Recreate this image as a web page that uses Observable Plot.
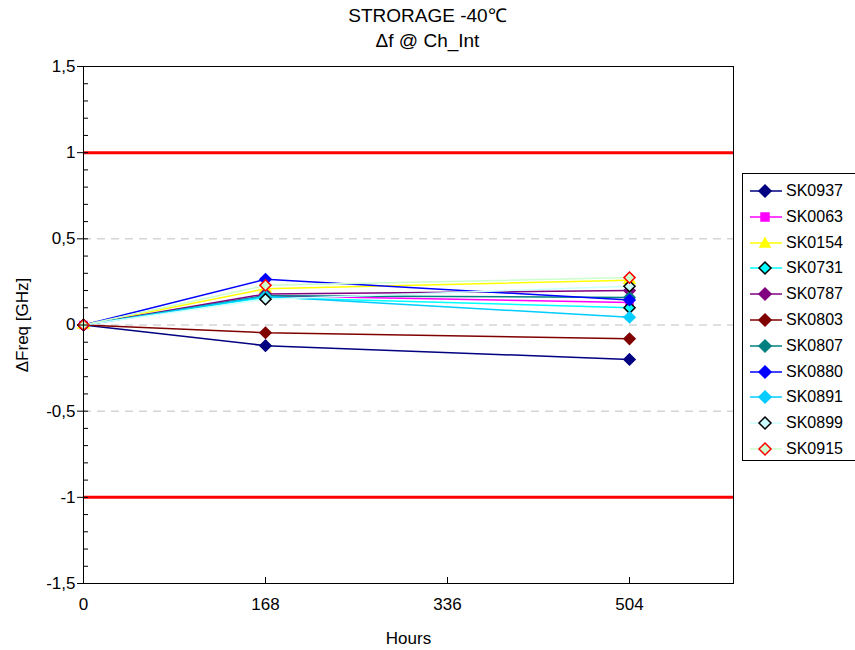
<!DOCTYPE html>
<html><head><meta charset="utf-8">
<script src="https://cdn.jsdelivr.net/npm/d3@7"></script>
<script src="https://cdn.jsdelivr.net/npm/@observablehq/plot@0.6"></script>
<style>
body{margin:0;background:#fff;font-family:"Liberation Sans",Arial,sans-serif;}
#wrap{position:relative;width:855px;height:650px;overflow:hidden;}
#title{position:absolute;left:0;width:855px;top:3px;text-align:center;font-size:19px;line-height:25px;color:#000;}
#legend{position:absolute;left:742px;top:173px;width:120px;height:288px;border:1px solid #000;box-sizing:border-box;background:#fff;}
.li{position:absolute;left:6px;height:20px;display:flex;align-items:center;font-size:16px;}
.li svg{margin-right:3px;}
</style></head>
<body><div id="wrap"><div id="title"><div>STRORAGE -40℃</div><div>Δf @ Ch_Int</div></div><div id="chart"></div><div id="legend"></div></div>
<script>
const hours = [0, 168, 504];
const xTicks = [0, 168, 336, 504];
const yTicks = [-1.5, -1, -0.5, 0, 0.5, 1, 1.5];
const limits = [-1, 1];
const gridLines = [-0.5, 0, 0.5];
const seriesNames = ["SK0937","SK0063","SK0154","SK0731","SK0787","SK0803","SK0807","SK0880","SK0891","SK0899","SK0915"];
const SK0937 = [0, -0.12, -0.20];
const SK0063 = [0, 0.17, 0.13];
const SK0154 = [0, 0.21, 0.26];
const SK0731 = [0, 0.16, 0.10];
const SK0787 = [0, 0.18, 0.20];
const SK0803 = [0, -0.045, -0.08];
const SK0807 = [0, 0.17, 0.16];
const SK0880 = [0, 0.265, 0.145];
const SK0891 = [0, 0.165, 0.045];
const SK0899 = [0, 0.15, 0.225];
const SK0915 = [0, 0.23, 0.275];
const seriesValues = [SK0937,SK0063,SK0154,SK0731,SK0787,SK0803,SK0807,SK0880,SK0891,SK0899,SK0915];
const lineColors = ["#000080","#FF00FF","#FFFF00","#00FFFF","#800080","#800000","#008080","#0000FF","#00CCFF","#CCFFFF","#CCFFCC"];
const markFill   = ["#000080","#FF00FF","#FFFF00","#00FFFF","#800080","#800000","#008080","#0000FF","#00CCFF","#CCFFFF","#CCFFCC"];
const markStroke = ["#000080","#FF00FF","#FFFF00","#000000","#800080","#800000","#008080","#0000FF","#00CCFF","#000000","#FF0000"];
const markSymbol = ["diamond2","square","triangle","diamond2","diamond2","diamond2","diamond2","diamond2","diamond2","diamond2","diamond2"];

const fmt = d => String(d).replace(".", ",");
const minorTicks = d3.range(-15, 16).map(i => i / 10);

const seriesMarks = [];
seriesNames.forEach((name, i) => {
  const data = hours.map((h, j) => ({h, v: seriesValues[i][j]}));
  seriesMarks.push(Plot.line(data, {x: "h", y: "v", stroke: lineColors[i], strokeWidth: 1.5}));
  seriesMarks.push(Plot.dot(data, {x: "h", y: "v", symbol: markSymbol[i], fill: markFill[i], stroke: markStroke[i], strokeWidth: 1.5, r: markSymbol[i]==="diamond2" ? 5 : 4}));
});

const chart = Plot.plot({
  width: 855, height: 650,
  marginTop: 66, marginBottom: 67, marginLeft: 83, marginRight: 122,
  style: {fontFamily: '"Liberation Sans", Arial, sans-serif', fontSize: "17px", color: "#000", background: "#fff"},
  x: {domain: [0, 600]},
  y: {domain: [-1.5, 1.5]},
  marks: [
    Plot.ruleY(gridLines, {stroke: "#c0c0c0", strokeWidth: 1, strokeDasharray: "8,6"}),
    Plot.ruleY(limits, {stroke: "#ff0000", strokeWidth: 3}),
    ...seriesMarks,
    Plot.frame({stroke: "#000", strokeWidth: 1}),
    Plot.axisY({ticks: minorTicks, tickSize: -5, text: null, label: null, stroke: "#000"}),
    Plot.axisY({ticks: yTicks, tickSize: 6, tickPadding: 2, tickFormat: fmt, label: "ΔFreq [GHz]", labelAnchor: "center", labelOffset: 68, labelArrow: "none", fill: "#000"}),
    Plot.axisX({ticks: xTicks, tickSize: -6, text: null, label: null}),
    Plot.axisX({ticks: xTicks, tickSize: 0, tickPadding: 14, label: "Hours", labelAnchor: "center", labelOffset: 60, labelArrow: "none", fill: "#000"})
  ]
});
document.getElementById("chart").appendChild(chart);

// legend
const leg = document.getElementById("legend");
const symPath = {
  diamond2: "M16,4 L22,10 L16,16 L10,10 Z",
  square: "M12,6 L20,6 L20,14 L12,14 Z",
  triangle: "M16,5 L21,14 L11,14 Z"
};
seriesNames.forEach((name, i) => {
  const d = document.createElement("div");
  d.className = "li";
  d.style.top = (7 + i * 25.8) + "px";
  d.innerHTML = `<svg width="34" height="20"><line x1="1" x2="33" y1="10" y2="10" stroke="${lineColors[i]}" stroke-width="1.5"/><path d="${symPath[markSymbol[i]]}" fill="${markFill[i]}" stroke="${markStroke[i]}" stroke-width="1.5"/></svg><span>${name}</span>`;
  leg.appendChild(d);
});
</script></body></html>
